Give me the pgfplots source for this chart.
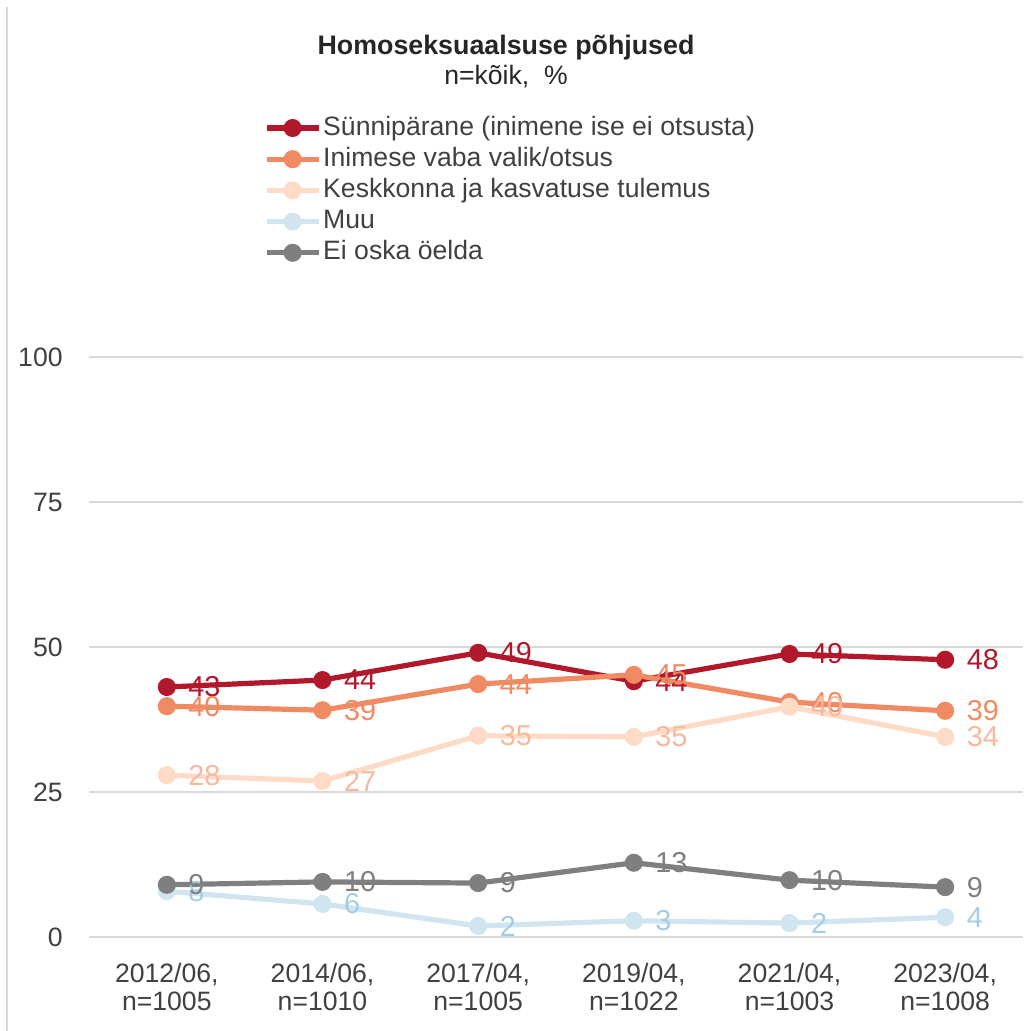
\documentclass[border=0pt]{standalone}
\usepackage{pgfplots}
\pgfplotsset{compat=1.18}
\usepackage{fontspec}
\setmainfont{Liberation Sans}
\definecolor{cRed}{HTML}{B2182B}
\definecolor{cOrange}{HTML}{EF8A62}
\definecolor{cPeach}{HTML}{FDDBC7}
\definecolor{cPeachT}{HTML}{F7B99C}
\definecolor{cBlue}{HTML}{D1E5F0}
\definecolor{cBlueT}{HTML}{A3CDE5}
\definecolor{cGray}{HTML}{7F7F7F}
\definecolor{cText}{HTML}{404040}
\definecolor{cTitle}{HTML}{262626}
\definecolor{cGrid}{HTML}{D9D9D9}
\newcommand{\fs}{\fontsize{13.3}{14}\selectfont}
\newcommand{\fl}{\fontsize{14.4}{15}\selectfont}
\begin{document}
\begin{tikzpicture}
\path[use as bounding box] (-44.5pt,-47pt) rectangle (467pt,468.5pt);
\draw[cGrid, line width=0.6pt] (-41pt,465pt) -- (-41pt,-47pt);
\begin{axis}[
  at={(0,0)}, anchor=south west,
  scale only axis, width=467pt, height=290pt,
  xmin=-0.5, xmax=5.5, ymin=0, ymax=100,
  axis line style={draw=none}, tick style={draw=none},
  ymajorgrids, grid style={cGrid, line width=0.75pt},
  ytick={0,25,50,75,100},
  xtick={0,1,2,3,4,5},
  xticklabels={{2012/06,\\n=1005},{2014/06,\\n=1010},{2017/04,\\n=1005},{2019/04,\\n=1022},{2021/04,\\n=1003},{2023/04,\\n=1008}},
  xticklabel style={align=center, font=\fs, text=cText, inner sep=0pt, yshift=-13pt},
  yticklabel style={font=\fs, text=cText, inner sep=0pt, anchor=east, xshift=-13pt},
  /pgf/number format/assume math mode=true,
  clip=false,
  nodes near coords, point meta=explicit symbolic,
  every node near coord/.append style={anchor=west, xshift=9.5pt, inner sep=0pt, font=\fl},
  legend image code/.code={\draw[mark repeat=2,mark phase=2,#1] plot coordinates {(0pt,0pt) (13pt,0pt) (26pt,0pt)};},
  legend cell align=left,
  legend style={at={(0.1874,1.4172)}, anchor=north west, draw=none, fill=none, inner sep=0pt, outer sep=0pt,
    font=\fs, text=cText, row sep=2.6pt,
    nodes={inner sep=0pt, text height=10pt, text depth=3pt},
    /tikz/every odd column/.style={column sep=1pt}},
  every axis plot/.append style={line width=2.6pt, mark=*, mark size=3.2pt},
]
\addplot[color=cRed, mark options={draw=none, fill=cRed}, every node near coord/.append style={text=cRed}]
  coordinates {(0,43.1)[43] (1,44.3)[44] (2,49.0)[49] (3,44.1)[44] (4,48.8)[49] (5,47.8)[48]};
\addlegendentry{Sünnipärane (inimene ise ei otsusta)}
\addplot[color=cOrange, mark options={draw=none, fill=cOrange}, every node near coord/.append style={text=cOrange}]
  coordinates {(0,39.8)[40] (1,39.1)[39] (2,43.6)[44] (3,45.2)[45] (4,40.5)[40] (5,39.0)[39]};
\addlegendentry{Inimese vaba valik/otsus}
\addplot[color=cPeach, mark options={draw=none, fill=cPeach}, every node near coord/.append style={text=cPeachT}]
  coordinates {(0,27.9)[28] (1,26.9)[27] (2,34.7)[35] (3,34.5)[35] (4,39.7)[40] (5,34.5)[34]};
\addlegendentry{Keskkonna ja kasvatuse tulemus}
\addplot[color=cBlue, mark options={draw=none, fill=cBlue}, every node near coord/.append style={text=cBlueT}]
  coordinates {(0,7.9)[8] (1,5.7)[6] (2,1.9)[2] (3,2.8)[3] (4,2.4)[2] (5,3.4)[4]};
\addlegendentry{Muu}
\addplot[color=cGray, mark options={draw=none, fill=cGray}, every node near coord/.append style={text=cGray}]
  coordinates {(0,9.0)[9] (1,9.5)[10] (2,9.3)[9] (3,12.8)[13] (4,9.8)[10] (5,8.6)[9]};
\addlegendentry{Ei oska öelda}
\end{axis}
\node[font=\fontsize{13.4}{16}\selectfont\bfseries, text=cTitle, anchor=base, inner sep=0pt] at (208.5pt,441pt) {Homoseksuaalsuse põhjused};
\node[font=\fs, text=cTitle, anchor=base, inner sep=0pt] at (208.5pt,426pt) {n=kõik,\ \ \%};
\end{tikzpicture}
\end{document}
